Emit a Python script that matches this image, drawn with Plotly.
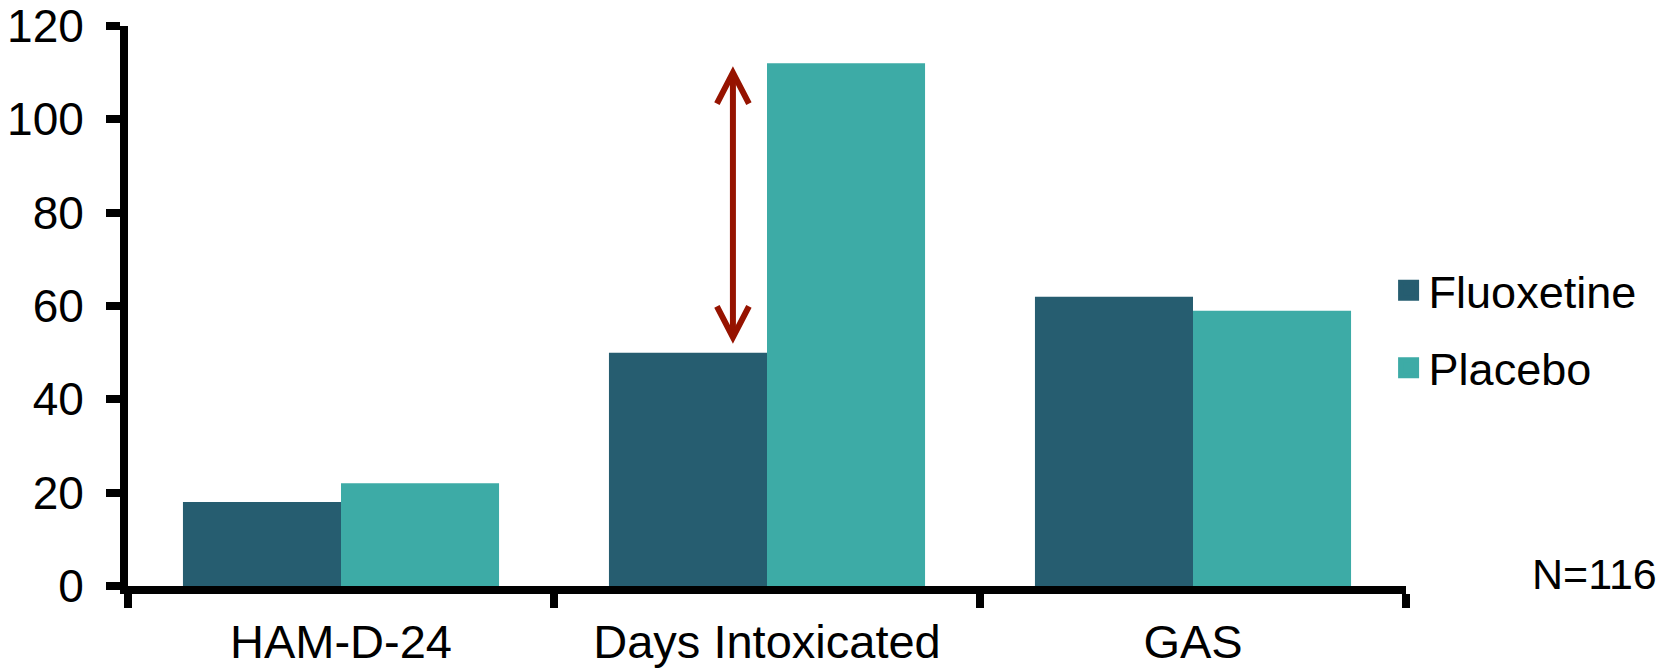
import plotly.graph_objects as go

# Outcome measures and group means
categories = ["HAM-D-24", "Days Intoxicated", "GAS"]
fluoxetine = [18, 50, 62]
placebo = [22, 112, 59]
y_ticks = [0, 20, 40, 60, 80, 100, 120]
sample_note = "N=116"

FLUOX_COLOR = "#265D70"
PLACEBO_COLOR = "#3DABA6"
ARROW_COLOR = "#961300"
FONT = "Liberation Sans, Arial, sans-serif"

fig = go.Figure()

fig.add_trace(go.Bar(x=categories, y=fluoxetine, name="Fluoxetine",
                     marker=dict(color=FLUOX_COLOR, line=dict(width=0)),
                     showlegend=False))
fig.add_trace(go.Bar(x=categories, y=placebo, name="Placebo",
                     marker=dict(color=PLACEBO_COLOR, line=dict(width=0)),
                     showlegend=False))

# Legend entries with large square swatches
for name, color in [("Fluoxetine", FLUOX_COLOR), ("Placebo", PLACEBO_COLOR)]:
    fig.add_trace(go.Scatter(x=[None], y=[None], mode="markers", name=name,
                             legendgroup=name,
                             marker=dict(symbol="square", size=16, color=color,
                                         line=dict(width=5, color=color))))

# Double-headed arrow spanning the Days Intoxicated difference
idx = categories.index("Days Intoxicated")
ax_x = idx - 0.08
top_tip = placebo[idx] - 2
bottom_tip = fluoxetine[idx] + 3.3
arrow_line = dict(color=ARROW_COLOR, width=6)
fig.add_shape(type="line", xref="x", yref="y", x0=ax_x, x1=ax_x,
              y0=bottom_tip, y1=top_tip, line=arrow_line)
fig.add_shape(type="path", xref="x", yref="y", xsizemode="pixel", ysizemode="pixel",
              xanchor=ax_x, yanchor=top_tip, path="M -16,-31 L 0,0 L 16,-31",
              line=arrow_line)
fig.add_shape(type="path", xref="x", yref="y", xsizemode="pixel", ysizemode="pixel",
              xanchor=ax_x, yanchor=bottom_tip, path="M -16,31 L 0,0 L 16,31",
              line=arrow_line)

fig.add_annotation(text=sample_note, xref="paper", yref="paper", x=1.198, y=0.021,
                   xanchor="right", yanchor="middle", showarrow=False,
                   font=dict(family=FONT, size=43, color="black"))

fig.update_layout(
    width=1673, height=670,
    margin=dict(l=128, r=267, t=26, b=84, autoexpand=False),
    paper_bgcolor="white", plot_bgcolor="white",
    barmode="group", bargap=0.258, bargroupgap=0,
    font=dict(family=FONT, color="black"),
    legend=dict(xref="container", yref="container", x=0.830, y=0.62,
                xanchor="left", yanchor="top", tracegroupgap=16,
                font=dict(family=FONT, size=45, color="black"),
                bgcolor="rgba(0,0,0,0)"),
)

fig.update_xaxes(
    type="category", range=[-0.5, 2.5], automargin=False,
    showline=True, linecolor="black", linewidth=8,
    ticks="outside", tickson="boundaries", ticklen=14, tickwidth=8, tickcolor="black",
    tickfont=dict(family=FONT, size=47, color="black"),
    ticklabelstandoff=8, showgrid=False, zeroline=False,
)
fig.update_yaxes(
    range=[0, 120], tickvals=y_ticks, automargin=False,
    showline=True, linecolor="black", linewidth=8,
    ticks="outside", ticklen=14, tickwidth=8, tickcolor="black",
    tickfont=dict(family=FONT, size=46, color="black"),
    ticklabelstandoff=13, showgrid=False, zeroline=False,
)

fig.write_html("out.html")
